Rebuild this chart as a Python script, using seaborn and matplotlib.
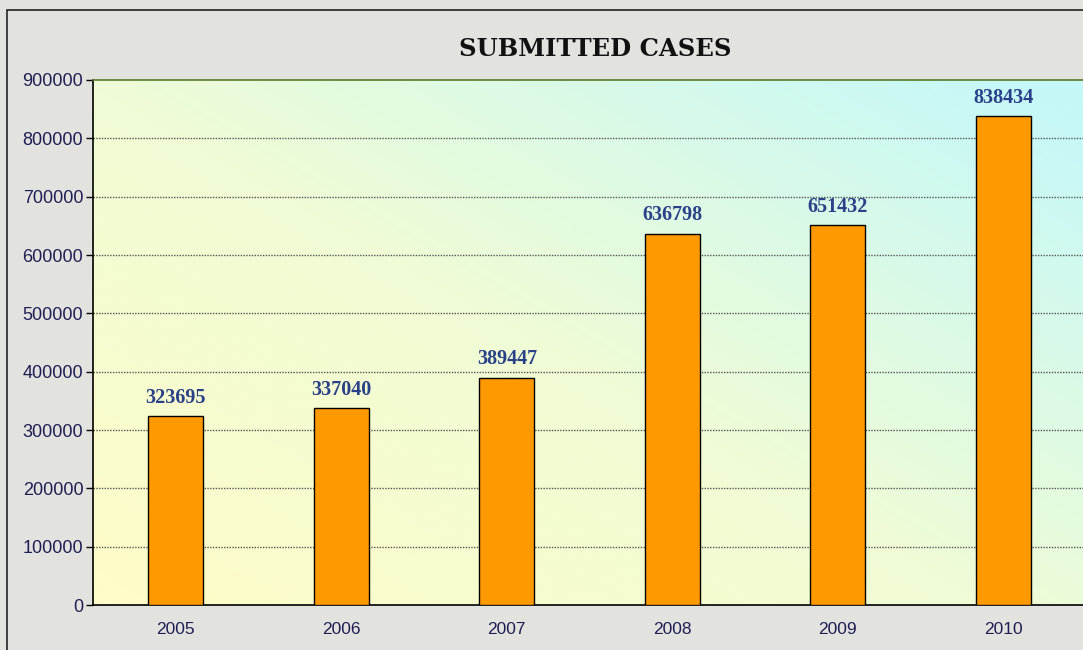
import numpy as np
import pandas as pd
import matplotlib
matplotlib.use("Agg")
import matplotlib.pyplot as plt
from matplotlib.patches import Rectangle
from matplotlib.colors import LinearSegmentedColormap
import seaborn as sns

years = ["2005", "2006", "2007", "2008", "2009", "2010"]
cases = [323695, 337040, 389447, 636798, 651432, 838434]
yticks = [0, 100000, 200000, 300000, 400000, 500000, 600000, 700000, 800000, 900000]

df = pd.DataFrame({"year": years, "cases": cases})

sns.set_theme(style="white")
plt.rcParams["font.family"] = ["Liberation Sans", "DejaVu Sans"]

fig = plt.figure(figsize=(10.83, 6.5), dpi=100)
fig.patch.set_facecolor("#e2e2df")
# outer frame
fig.patches.append(Rectangle((7 / 1083, -0.1), 1.2, 1.1 - 10 / 650,
                             transform=fig.transFigure, fill=False,
                             edgecolor="#222222", linewidth=1.2, zorder=0))

ax = fig.add_axes([93 / 1083, 1 - 605 / 650, (1086 - 93) / 1083, (605 - 80) / 650])

# gradient background: yellow bottom-left to cyan top-right
n = 200
xx, yy = np.meshgrid(np.linspace(0, 1, n), np.linspace(0, 1, n))
t = np.clip((xx * 0.6 + yy * 0.55) / 1.1, 0, 1)
cmap = LinearSegmentedColormap.from_list("bg", ["#fffcc8", "#effcd6", "#c6f8f8"])
ax.imshow(t, cmap=cmap, extent=[0, 1, 0, 1], transform=ax.transAxes,
          origin="lower", aspect="auto", zorder=0, interpolation="bicubic")

sns.barplot(data=df, x="year", y="cases", color="#ff9900", saturation=1,
            width=0.33, edgecolor="black", linewidth=1.0, ax=ax, zorder=3)

ax.set_xlim(-0.5, 5.5)
ax.set_ylim(0, 900000)
ax.set_yticks(yticks)
ax.set_yticklabels([str(v) for v in yticks], color="#1e1e55", fontsize=13)
ax.set_xticks(range(len(years)))
ax.set_xticklabels(years, color="#1e1e55", fontsize=12.5)
ax.tick_params(axis="x", which="major", length=0, pad=12)
ax.set_xticks(np.arange(0.5, 5.0, 1.0), minor=True)
ax.tick_params(axis="x", which="minor", length=5, width=1, color="black", direction="out")
ax.tick_params(axis="y", length=5, width=1, color="black", direction="out", left=True, pad=2)
ax.set_xlabel("")
ax.set_ylabel("")

for yv in yticks[1:-1]:
    ax.axhline(yv, color="#555555", linestyle=(0, (1, 1)), linewidth=1.0, zorder=1)

for sp in ["left", "bottom"]:
    ax.spines[sp].set_color("black")
    ax.spines[sp].set_linewidth(1.2)
ax.spines["top"].set_color("#5a7a2a")
ax.spines["top"].set_linewidth(1.2)
ax.spines["right"].set_visible(False)

for i, v in enumerate(cases):
    ax.annotate(str(v), (i, v), xytext=(0, 6), textcoords="offset points",
                ha="center", va="bottom", fontsize=14.5, fontweight="bold",
                family="Liberation Serif", color="#2a4088", zorder=5)

fig.text(595 / 1083, 1 - 49 / 650, "SUBMITTED CASES", ha="center", va="center",
         fontsize=17.5, fontweight="bold", family="DejaVu Serif", color="#111111")

fig.savefig("out.png", dpi=100, facecolor=fig.get_facecolor())
